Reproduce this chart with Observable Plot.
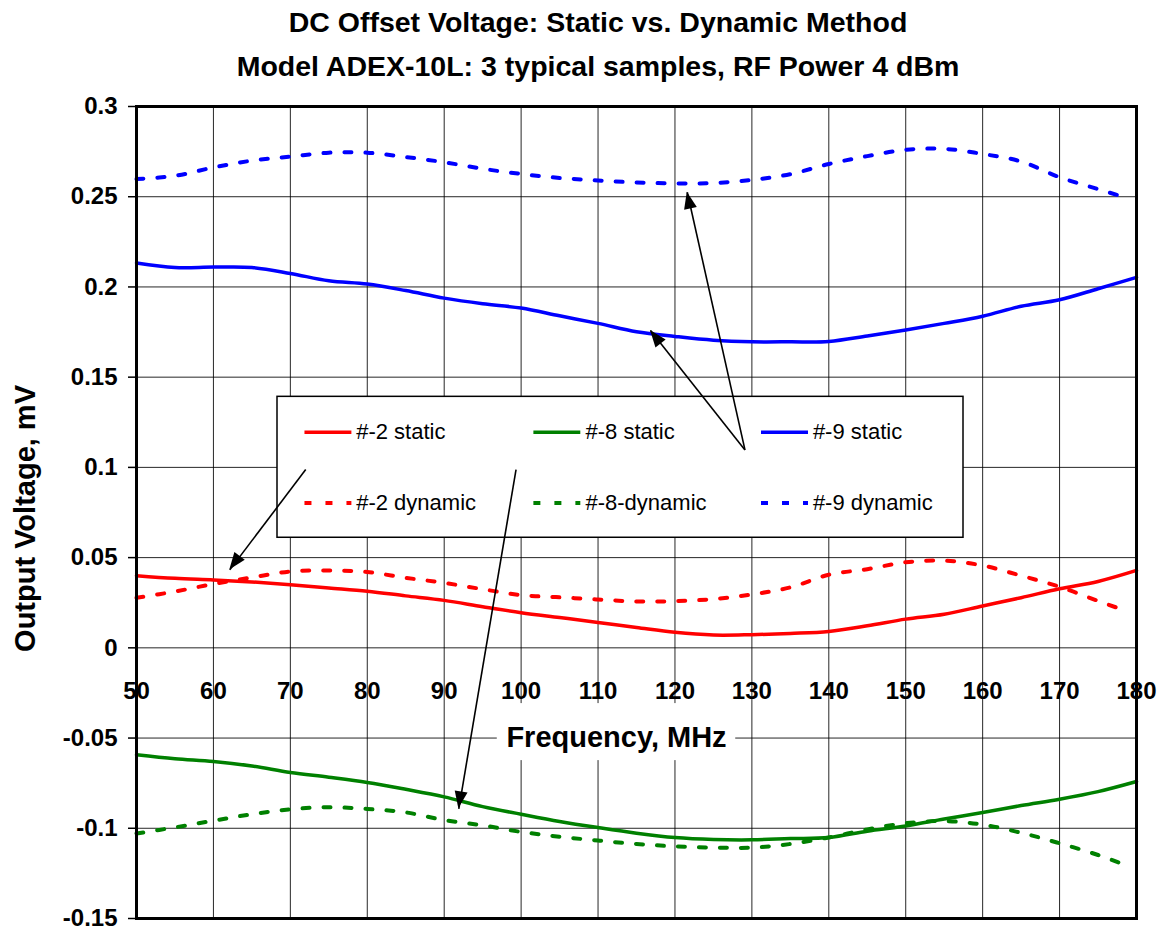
<!DOCTYPE html>
<html>
<head>
<meta charset="utf-8">
<script src="https://cdn.jsdelivr.net/npm/d3@7"></script>
<script src="https://cdn.jsdelivr.net/npm/@observablehq/plot@0.6"></script>
<style>
  body { margin: 0; background: #fff; font-family: "Liberation Sans", Arial, sans-serif; }
  #wrap { width: 1159px; height: 930px; position: relative; overflow: hidden; background: #fff; }
  .title { position: absolute; left: 598px; transform: translateX(-50%); white-space: nowrap;
           font-weight: bold; font-size: 28.5px; line-height: 44px; color: #000; }
  #chart { position: absolute; top: 88px; left: 0; }
</style>
</head>
<body>
<div id="wrap">
  <div class="title" style="top:0">DC Offset Voltage: Static vs. Dynamic Method</div>
  <div class="title" style="top:44px">Model ADEX-10L: 3 typical samples, RF Power 4 dBm</div>
  <div id="chart"></div>
</div>
<script>
// ---------- data ----------
const freqStatic  = [50,55,60,65,70,75,80,85,90,95,100,105,110,115,120,125,130,135,140,145,150,155,160,165,170,175,180];
const freqDynamic = [50,55,60,65,70,75,80,85,90,95,100,105,110,115,120,125,130,135,140,145,150,155,160,165,170,175,178];

const s2Static  = [0.0400,0.0385,0.0376,0.0365,0.0350,0.0332,0.0314,0.0288,0.0263,0.0228,0.0195,0.0168,0.0141,0.0113,0.0086,0.0071,0.0073,0.0080,0.0091,0.0122,0.0159,0.0186,0.0232,0.0278,0.0327,0.0368,0.0429];
const s2Dynamic = [0.0277,0.0312,0.0354,0.0390,0.0423,0.0429,0.0420,0.0388,0.0360,0.0325,0.0292,0.0280,0.0268,0.0257,0.0259,0.0270,0.0296,0.0335,0.0405,0.0436,0.0474,0.0483,0.0456,0.0400,0.0338,0.0260,0.0214];

const s8Static  = [-0.0593,-0.0615,-0.0630,-0.0655,-0.0691,-0.0717,-0.0746,-0.0784,-0.0826,-0.0880,-0.0922,-0.0962,-0.0996,-0.1027,-0.1051,-0.1062,-0.1064,-0.1057,-0.1051,-0.1016,-0.0987,-0.0949,-0.0913,-0.0874,-0.0839,-0.0797,-0.0741];
const s8Dynamic = [-0.1029,-0.0995,-0.0958,-0.0922,-0.0895,-0.0883,-0.0893,-0.0912,-0.0955,-0.0984,-0.1020,-0.1047,-0.1068,-0.1087,-0.1100,-0.1107,-0.1107,-0.1087,-0.1051,-0.1006,-0.0972,-0.0960,-0.0980,-0.1025,-0.1083,-0.1148,-0.1195];

const s9Static  = [0.2133,0.2108,0.2110,0.2108,0.2075,0.2034,0.2016,0.1980,0.1938,0.1907,0.1883,0.1840,0.1798,0.1752,0.1726,0.1705,0.1696,0.1696,0.1698,0.1728,0.1761,0.1798,0.1838,0.1893,0.1929,0.1990,0.2053];
const s9Dynamic = [0.2598,0.2616,0.2662,0.2700,0.2722,0.2744,0.2744,0.2720,0.2691,0.2655,0.2626,0.2604,0.2590,0.2579,0.2574,0.2576,0.2593,0.2625,0.2681,0.2725,0.2760,0.2765,0.2737,0.2695,0.2608,0.2542,0.2503];

const xTicks = [50,60,70,80,90,100,110,120,130,140,150,160,170,180];
const yTicks = [-0.15,-0.1,-0.05,0,0.05,0.1,0.15,0.2,0.25,0.3];

const seriesNames  = ["#-2 static","#-8 static","#-9 static","#-2 dynamic","#-8-dynamic","#-9 dynamic"];
const seriesColors = ["#ff0000","#008000","#0000ff","#ff0000","#008000","#0000ff"];

// annotation arrows (data coordinates: MHz, mV)
const arrowStart = [[72.0,0.0988],[99.34,0.0988],[129.1,0.1097],[129.1,0.1097]];
const arrowEnd   = [[62.13,0.0432],[91.9,-0.0892],[116.82,0.1758],[121.6,0.2525]];

// ---------- build tables ----------
const seriesDefs = [
  {name: seriesNames[0], color: seriesColors[0], f: freqStatic,  v: s2Static,  dyn: false},
  {name: seriesNames[1], color: seriesColors[1], f: freqStatic,  v: s8Static,  dyn: false},
  {name: seriesNames[2], color: seriesColors[2], f: freqStatic,  v: s9Static,  dyn: false},
  {name: seriesNames[3], color: seriesColors[3], f: freqDynamic, v: s2Dynamic, dyn: true},
  {name: seriesNames[4], color: seriesColors[4], f: freqDynamic, v: s8Dynamic, dyn: true},
  {name: seriesNames[5], color: seriesColors[5], f: freqDynamic, v: s9Dynamic, dyn: true}
];
const arrows = arrowStart.map((s, i) => ({x1: s[0], y1: s[1], x2: arrowEnd[i][0], y2: arrowEnd[i][1]}));

// legend layout (in data coordinates of the plot)
const legendBox = {x1: 68.33, x2: 157.51, y1: 0.1391, y2: 0.0610};
const legendCols = [[71.9, 78.0, 78.56], [101.66, 107.76, 108.37], [131.25, 137.36, 137.93]];
const legendRows = [0.1195, 0.0802];
const legendItems = seriesDefs.map((s, i) => {
  const col = legendCols[i % 3], row = legendRows[Math.floor(i / 3)];
  return {...s, lx1: col[0], lx2: col[1], tx: col[2], y: row};
});

const DASH = "7,14";
const FONT = "'Liberation Sans', Arial, Helvetica, sans-serif";

const lineMarks = seriesDefs.map(s =>
  Plot.line(s.f.map((f, i) => ({f, v: s.v[i]})), {
    x: "f", y: "v", stroke: s.color, strokeWidth: s.dyn ? 4 : 3.5,
    strokeDasharray: s.dyn ? DASH : null, curve: "catmull-rom"
  })
);

const legendLineMarks = legendItems.map(d =>
  Plot.ruleY([d], {y: "y", x1: "lx1", x2: "lx2", stroke: d.color, strokeWidth: d.dyn ? 4 : 3.5,
    strokeDasharray: d.dyn ? DASH : null})
);

const chart = Plot.plot({
  width: 1159, height: 842,
  marginTop: 18, marginBottom: 12, marginLeft: 136, marginRight: 23,
  x: {domain: [50, 180], axis: null},
  y: {domain: [-0.15, 0.3]},
  style: {fontFamily: FONT, color: "#000", background: "#fff", overflow: "visible"},
  marks: [
    Plot.gridY(yTicks, {stroke: "#000", strokeOpacity: 0.85, strokeWidth: 1}),
    Plot.gridX(xTicks, {stroke: "#000", strokeOpacity: 0.85, strokeWidth: 1}),
    // white backing for the x-axis title
    Plot.rect([{x1: 96.9, x2: 127.9, y1: -0.0309, y2: -0.0625}], {x1: "x1", x2: "x2", y1: "y1", y2: "y2", fill: "#fff"}),
    ...lineMarks,
    Plot.frame({stroke: "#000", strokeWidth: 3}),
    Plot.axisY(yTicks, {
      tickSize: 8, tickPadding: 11, fontSize: 24, fontWeight: "bold", label: null,
      stroke: "#000", strokeWidth: 1.5,
      tickFormat: d => String(Math.round(d * 100) / 100)
    }),
    Plot.text(xTicks, {x: d => d, y: 0, dy: 43, text: d => String(d), fontSize: 24, fontWeight: "bold", fill: "#000"}),
    Plot.text(["Frequency, MHz"], {x: 112.4, y: -0.05, text: d => d, fontSize: 29, fontWeight: "bold", fill: "#000"}),
    Plot.text(["Output Voltage, mV"], {x: 50, y: 0.0717, dx: -111, rotate: -90, text: d => d, fontSize: 29, fontWeight: "bold", fill: "#000"}),
    // legend
    Plot.rect([legendBox], {x1: "x1", x2: "x2", y1: "y1", y2: "y2", fill: "#fff", stroke: "#000", strokeWidth: 1.5}),
    ...legendLineMarks,
    Plot.text(legendItems, {x: "tx", y: "y", text: "name", textAnchor: "start", fontSize: 22, fill: "#000"}),
    // arrow shafts
    Plot.link(arrows, {x1: "x1", y1: "y1", x2: "x2", y2: "y2", stroke: "#000", strokeWidth: 1.6})
  ]
});

// filled arrow heads, positioned with the plot's own scales
const X = chart.scale("x"), Y = chart.scale("y");
d3.select(chart).append("g")
  .selectAll("polygon")
  .data(arrows)
  .join("polygon")
  .attr("fill", "#000")
  .attr("points", d => {
    const x1 = X.apply(d.x1), y1 = Y.apply(d.y1), x2 = X.apply(d.x2), y2 = Y.apply(d.y2);
    const L = Math.hypot(x2 - x1, y2 - y1), ux = (x2 - x1) / L, uy = (y2 - y1) / L;
    const len = 17, hw = 6.5;
    const bx = x2 - ux * len, by = y2 - uy * len;
    return [[x2, y2], [bx - uy * hw, by + ux * hw], [bx + uy * hw, by - ux * hw]].map(p => p.join(",")).join(" ");
  });

document.getElementById("chart").appendChild(chart);
</script>
</body>
</html>
